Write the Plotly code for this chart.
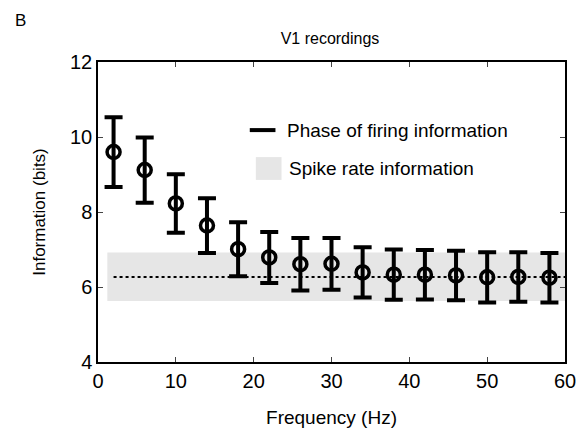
import plotly.graph_objects as go

freq = [2, 6, 10, 14, 18, 22, 26, 30, 34, 38, 42, 46, 50, 54, 58]
phase_info = [9.6, 9.12, 8.23, 7.64, 7.01, 6.79, 6.61, 6.62, 6.39, 6.33, 6.33, 6.31, 6.26, 6.27, 6.25]
phase_err = [0.93, 0.87, 0.78, 0.73, 0.72, 0.68, 0.70, 0.69, 0.67, 0.67, 0.66, 0.66, 0.67, 0.66, 0.66]
spike_x = [1.2, 60]
spike_mean = 6.27
spike_lo = 5.63
spike_hi = 6.92
x_ticks = [0, 10, 20, 30, 40, 50, 60]
y_ticks = [4, 6, 8, 10, 12]

FONT = "Liberation Sans, Arial, sans-serif"

fig = go.Figure()
fig.add_trace(go.Scatter(
    x=[spike_x[0], spike_x[1], spike_x[1], spike_x[0], spike_x[0]],
    y=[spike_lo, spike_lo, spike_hi, spike_hi, spike_lo],
    fill="toself", fillcolor="#e6e6e6", line=dict(width=0),
    mode="lines", hoverinfo="skip", showlegend=False))
fig.add_trace(go.Scatter(
    x=[freq[0], spike_x[1]], y=[spike_mean, spike_mean], mode="lines",
    line=dict(color="black", width=2, dash="dot"), showlegend=False))
fig.add_trace(go.Scatter(
    x=freq, y=phase_info, mode="markers",
    marker=dict(symbol="circle-open", size=13, color="black", line=dict(width=3.5, color="black")),
    error_y=dict(type="data", array=phase_err, visible=True, color="black", thickness=4, width=9),
    showlegend=False))

# legend drawn manually
fig.add_shape(type="line", xref="paper", yref="paper", x0=0.325, x1=0.38, y0=0.773, y1=0.773,
              line=dict(color="black", width=4))
fig.add_annotation(xref="paper", yref="paper", x=0.40, y=0.773, text="Phase of firing information",
                   showarrow=False, xanchor="left", yanchor="middle", font=dict(size=19, family=FONT, color="black"))
fig.add_shape(type="rect", xref="paper", yref="paper", x0=0.338, x1=0.393, y0=0.607, y1=0.683,
              fillcolor="#e6e6e6", line=dict(width=0))
fig.add_annotation(xref="paper", yref="paper", x=0.405, y=0.645, text="Spike rate information",
                   showarrow=False, xanchor="left", yanchor="middle", font=dict(size=19, family=FONT, color="black"))

fig.add_annotation(xref="paper", yref="paper", x=-0.182, y=1.14, text="B", showarrow=False,
                   xanchor="left", yanchor="middle", font=dict(size=17, family=FONT, color="black"))

fig.update_layout(
    width=576, height=432,
    margin=dict(l=98, r=11, t=62, b=70, autoexpand=False),
    paper_bgcolor="white", plot_bgcolor="white",
    font=dict(family=FONT, color="black"),
    title=dict(text="V1 recordings", x=(330 - 98) / 467, xanchor="center", xref="paper",
               y=1 - 38 / 432, yanchor="middle", automargin=False,
               font=dict(size=16, family=FONT, color="black")),
    showlegend=False,
)
fig.update_xaxes(range=[0, 60], tickvals=x_ticks, ticks="inside", ticklen=5, tickwidth=1, automargin=False,
                 ticklabeloverflow="allow",
                 showline=True, linecolor="black", linewidth=1.5, mirror="ticks", showgrid=False, zeroline=False,
                 tickfont=dict(size=20, family=FONT, color="black"),
                 title=dict(text="Frequency (Hz)", font=dict(size=19, family=FONT, color="black"), standoff=20))
fig.update_yaxes(range=[4, 12], tickvals=y_ticks, ticks="inside", ticklen=5, tickwidth=1, automargin=False,
                 ticklabeloverflow="allow",
                 showline=True, linecolor="black", linewidth=1.5, mirror="ticks", showgrid=False, zeroline=False,
                 tickfont=dict(size=20, family=FONT, color="black"),
                 title=dict(text="Information (bits)", font=dict(size=17, family=FONT, color="black"), standoff=20))

fig.write_html("out.html", config={"displayModeBar": False},
               post_script="document.body.style.margin='0';document.body.style.overflow='hidden';")
